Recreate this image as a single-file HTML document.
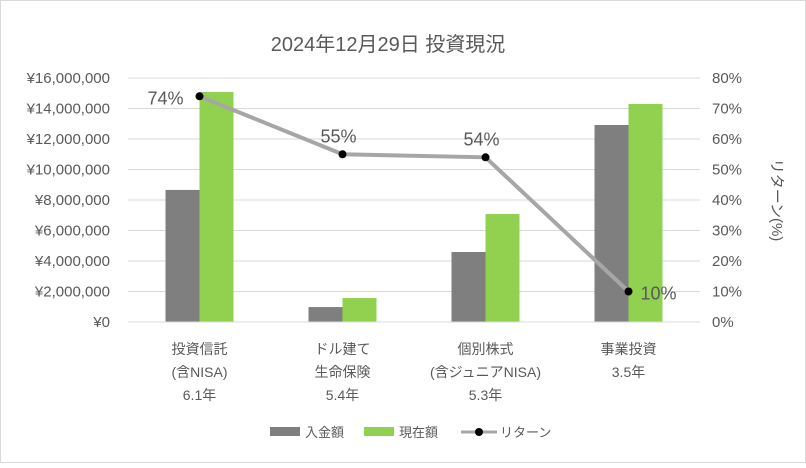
<!DOCTYPE html>
<html><head><meta charset="utf-8"><style>
body{margin:0;background:#fff}
svg text{font-family:"Liberation Sans","Noto Sans CJK JP",sans-serif;fill:#595959}
</style></head><body>
<svg id="c" width="806" height="463" xmlns="http://www.w3.org/2000/svg">
<rect x="0.5" y="0.5" width="805" height="462" fill="#fff" stroke="#d9d9d9"/>
<text x="388" y="51" font-size="20" text-anchor="middle">2024年12月29日 投資現況</text>
<g id="g"></g>
</svg>
<script>
const categories=[["投資信託","(含NISA)","6.1年"],["ドル建て","生命保険","5.4年"],["個別株式","(含ジュニアNISA)","5.3年"],["事業投資","3.5年"]];
const deposit=[8660000,980000,4590000,12920000];
const current=[15080000,1570000,7080000,14300000];
const returns=[74,55,54,10];
const leftTicks=[0,2000000,4000000,6000000,8000000,10000000,12000000,14000000,16000000];
const rightTicks=[0,10,20,30,40,50,60,70,80];
const NS="http://www.w3.org/2000/svg";
const g=document.getElementById('g');
const X0=128,X1=700,Y0=322,Y1=78;
const yL=v=>Y0-(v/16000000)*(Y0-Y1);
const yR=v=>Y0-(v/80)*(Y0-Y1);
const cw=(X1-X0)/categories.length;
const cx=i=>X0+cw*(i+0.5);
function el(t,a,txt){const e=document.createElementNS(NS,t);for(const k in a)e.setAttribute(k,a[k]);if(txt!==undefined)e.textContent=txt;g.appendChild(e);return e;}
leftTicks.forEach((v,i)=>{
 const l=el('line',{x1:X0,x2:X1,y1:yL(v),y2:yL(v),stroke:'#d9d9d9'});
 
 
 const t=el('text',{x:110,y:yL(v)+5,'font-size':15,'text-anchor':'end'},'¥'+v.toLocaleString('en-US'));
 
 
});
rightTicks.forEach(v=>{
 const t=el('text',{x:712,y:yR(v)+5,'font-size':15},v+'%');
 
 
});
const yt=el('text',{x:0,y:0,'font-size':15,'text-anchor':'middle',transform:'translate(772,200) rotate(90)'},'リターン(%)');


categories.forEach((c,i)=>{
 const b1=el('rect',{x:cx(i)-34,y:yL(deposit[i]),width:34,height:Y0-yL(deposit[i]),fill:'#7f7f7f'});
 
 
 const b2=el('rect',{x:cx(i),y:yL(current[i]),width:34,height:Y0-yL(current[i]),fill:'#92d050'});
 
 
 c.forEach((s,j)=>{
  const t=el('text',{x:cx(i),y:354+j*23,'font-size':14,'text-anchor':'middle'},s);
  
  
 });
});
const ax=el('line',{x1:X0,x2:X1,y1:Y0,y2:Y0,stroke:'#d9d9d9'});


const pl=el('polyline',{points:returns.map((r,i)=>cx(i)+','+yR(r)).join(' '),fill:'none',stroke:'#a6a6a6','stroke-width':4});


const off=[[-52,8],[-22,-12],[-22,-12],[12,8]];
returns.forEach((r,i)=>{
 const p=el('circle',{cx:cx(i),cy:yR(r),r:4,fill:'#000'});
 
 
 const t=el('text',{x:cx(i)+off[i][0],y:yR(r)+off[i][1],'font-size':18},r+'%');
 
 
});
const lg=[[270,'#7f7f7f','入金額'],[364,'#92d050','現在額']];
lg.forEach(a=>{
 const r=el('rect',{x:a[0],y:427,width:30,height:9,fill:a[1]});
 
 
 const t=el('text',{x:a[0]+35,y:437,'font-size':13},a[2]);
 
 
});
const ll=el('line',{x1:461,x2:497,y1:432,y2:432,stroke:'#a6a6a6','stroke-width':3});


const lc=el('circle',{cx:479,cy:432,r:4,fill:'#000'});


const lt=el('text',{x:500,y:437,'font-size':13},'リターン');


</script>
</body></html>
